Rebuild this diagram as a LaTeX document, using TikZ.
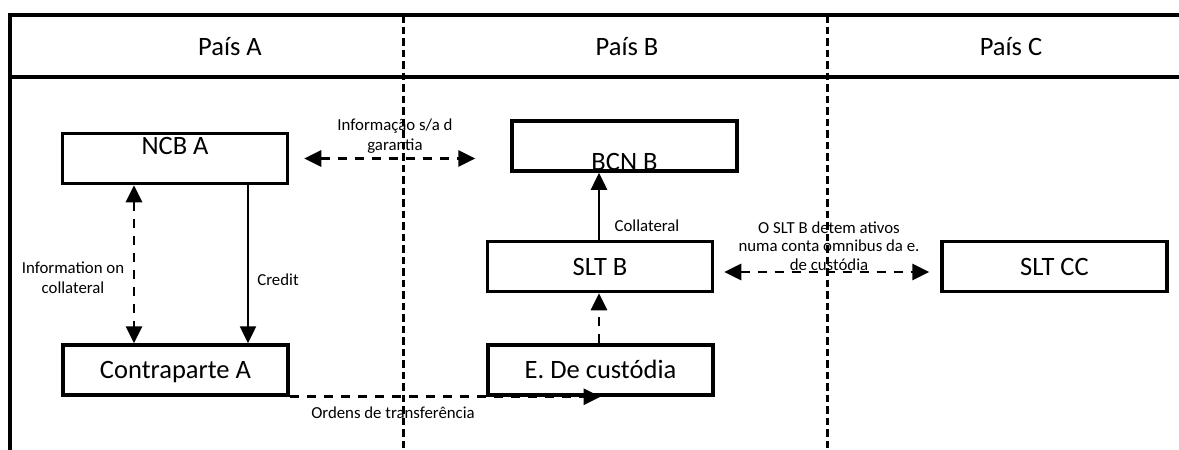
\documentclass[tikz,border=0pt]{standalone}
\usepackage{fontspec}
\setmainfont{Carlito}
\usetikzlibrary{arrows.meta}
\begin{document}
\begin{tikzpicture}[x=1pt,y=-1pt,
  frame/.style={line width=3.5pt},
  divider/.style={line width=3pt, dash pattern=on 7.5pt off 4pt},
  box/.style={draw, line width=3.5pt, minimum width=225pt, minimum height=50pt, inner sep=0pt,
    font=\fontsize{26.5}{30}\selectfont, text height=17pt, text depth=0pt},
  head/.style={font=\fontsize{26.5}{30}\selectfont, anchor=base, inner sep=0pt},
  lbl/.style={font=\fontsize{16.8}{20}\selectfont, align=center, anchor=base, inner sep=0pt},
  conn/.style={line width=2.5pt, -{Triangle[length=17pt,width=16pt]}},
  dconn/.style={conn, line width=2.8pt, dash pattern=on 9.5pt off 7.5pt},
  ddconn/.style={dconn, {Triangle[length=17pt,width=16pt]}-{Triangle[length=17pt,width=16pt]}},
]
\useasboundingbox (0,0) rectangle (1179,450);
% frame
\draw[frame] (10,15) -- (1179,15);
\draw[frame] (10,77) -- (1179,77);
\draw[frame] (10,13.25) -- (10,450);
% country dividers
\draw[divider] (403,15) -- (403,450);
\draw[divider] (827,15) -- (827,450);
% headers
\node[head] (hA) at (230,55) {País A};
\node[head] (hB) at (627,55) {País B};
\node[head] (hC) at (1011,55) {País C};
% boxes
\node[box, text depth=26pt] (ncbA) at (175,158.5) {NCB A};
\node[box, text height=48pt] (bcnB) at (624.5,146) {BCN B};
\node[box] (sltB) at (600,266.5) {SLT B};
\node[box] (sltCC) at (1054.5,266.5) {SLT CC};
\node[box] (contraA) at (175.5,370) {Contraparte A};
\node[box] (cust) at (600.5,370) {E. De custódia};
% connectors
\draw[ddconn, shorten <=15pt, shorten >=35pt] (ncbA.east) -- (ncbA.east -| bcnB.west);
\draw[ddconn] ([xshift=-41pt]ncbA.south) -- ([xshift=-41pt]ncbA.south |- contraA.north);
\draw[conn] ([xshift=73pt]ncbA.south) -- ([xshift=73pt]ncbA.south |- contraA.north);
\draw[conn] ([xshift=-1pt]sltB.north) -- ([xshift=-1pt]sltB.north |- bcnB.south);
\draw[dconn] ([xshift=-1.5pt]cust.north) -- ([xshift=-1.5pt]cust.north |- sltB.south);
\draw[ddconn, shorten <=10pt, shorten >=11pt] ([yshift=-5.5pt]sltB.east) -- ([yshift=-5.5pt]sltB.east -| sltCC.west);
\draw[dconn] (contraA.south east) -- (contraA.south east -| cust.south);
% labels
\node[lbl] (lInfo) at (395,150) {Informação s/a d\\garantia};
\node[lbl] (lInfoColl) at (73,293) {Information on\\collateral};
\node[lbl] (lCredit) at (278,285) {Credit};
\node[lbl] (lColl) at (647,231) {Collateral};
\node[lbl, font=\fontsize{16.8}{18.5}\selectfont] (lSLT) at (829,270) {O SLT B detem ativos\\numa conta omnibus da e.\\de custódia};
\node[lbl] (lOrd) at (393,418) {Ordens de transferência};
\end{tikzpicture}
\end{document}
